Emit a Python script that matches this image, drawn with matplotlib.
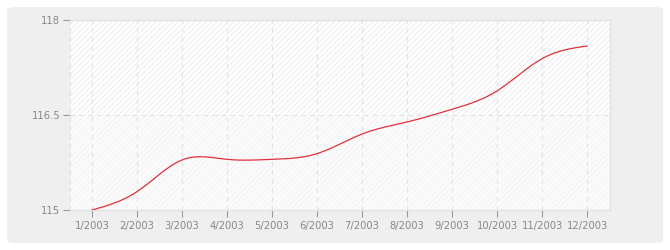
import numpy as np
import matplotlib
matplotlib.use("Agg")
import matplotlib.pyplot as plt
from matplotlib.patches import FancyBboxPatch

months = ["1/2003", "2/2003", "3/2003", "4/2003", "5/2003", "6/2003",
          "7/2003", "8/2003", "9/2003", "10/2003", "11/2003", "12/2003"]
values = [115.0, 115.29, 115.79, 115.80, 115.80, 115.89,
          116.20, 116.39, 116.59, 116.88, 117.39, 117.59]
y_ticks = [115, 116.5, 118]
y_tick_labels = ["115", "116.5", "118"]


def natural_spline(x, y, n=400):
    # plain natural cubic spline, just for a smooth line
    x = np.asarray(x, float)
    y = np.asarray(y, float)
    k = len(x)
    h = np.diff(x)
    A = np.zeros((k, k))
    b = np.zeros(k)
    A[0, 0] = A[-1, -1] = 1
    for i in range(1, k - 1):
        A[i, i - 1] = h[i - 1]
        A[i, i] = 2 * (h[i - 1] + h[i])
        A[i, i + 1] = h[i]
        b[i] = 3 * ((y[i + 1] - y[i]) / h[i] - (y[i] - y[i - 1]) / h[i - 1])
    c = np.linalg.solve(A, b)
    xs = np.linspace(x[0], x[-1], n)
    idx = np.clip(np.searchsorted(x, xs) - 1, 0, k - 2)
    dx = xs - x[idx]
    bb = (y[idx + 1] - y[idx]) / h[idx] - h[idx] * (2 * c[idx] + c[idx + 1]) / 3
    d = (c[idx + 1] - c[idx]) / (3 * h[idx])
    ys = y[idx] + bb * dx + c[idx] * dx ** 2 + d * dx ** 3
    return xs, ys


plt.rcParams["hatch.linewidth"] = 0.5

fig = plt.figure(figsize=(6.7, 2.5), dpi=100)
fig.patch.set_facecolor("white")
bg = FancyBboxPatch((7 / 670, 7 / 250), 656 / 670, 236 / 250,
                    boxstyle="round,pad=0,rounding_size=0.012",
                    transform=fig.transFigure, facecolor="#efefef",
                    edgecolor="none", zorder=-10)
fig.patches.append(bg)

ax = fig.add_axes([70 / 670, 40 / 250, 540 / 670, 190 / 250])
ax.set_facecolor("white")

x = np.arange(len(months))
ax.axhspan(116.5, 118, facecolor="white", edgecolor="#e6e6e6", hatch="//////",
           linewidth=0, zorder=0)
ax.axhspan(115, 116.5, facecolor="#fbfbfb", edgecolor="#f1f1f1", hatch="//////",
           linewidth=0, zorder=0)

xs, ys = natural_spline(x, values)
ax.plot(xs, ys, color="#e0303c", linewidth=0.9, zorder=3)

ax.set_xlim(-0.49, 11.51)
ax.set_ylim(115, 118)
ax.set_xticks(x)
ax.set_xticklabels(months)
ax.set_yticks(y_ticks)
ax.set_yticklabels(y_tick_labels)

ax.grid(True, color="#e2e2e2", linestyle=(0, (4, 4)), linewidth=0.8)
for gl in ax.get_xgridlines() + ax.get_ygridlines():
    gl.set_zorder(1)

for side in ["top", "right", "bottom"]:
    ax.spines[side].set_color("#e2e2e2")
    ax.spines[side].set_linewidth(1)
ax.spines["left"].set_color("#e2e2e2")
ax.spines["left"].set_linestyle((0, (4, 4)))

ax.tick_params(axis="both", colors="#999999", labelcolor="#888888",
               labelsize=7.2, length=5, width=0.8)
ax.tick_params(axis="x", pad=3)
ax.tick_params(axis="y", pad=2)

fig.savefig("out.png", dpi=100, facecolor=fig.get_facecolor())
